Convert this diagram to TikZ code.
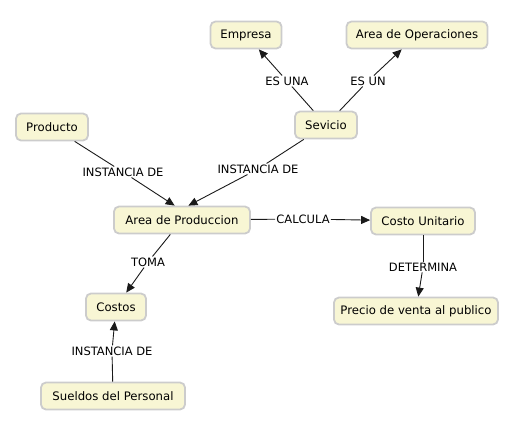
\documentclass[tikz,border=0pt]{standalone}
\usepackage{fontspec}
\setmainfont{DejaVu Sans}
\usetikzlibrary{arrows.meta,positioning}
\definecolor{cmfill}{HTML}{F8F6D4}
\definecolor{cmedge}{HTML}{CCCCCC}
\definecolor{cmline}{HTML}{1A1A1A}

\tikzset{
  concept/.style={draw=cmedge,line width=1.8pt,fill=cmfill,rounded corners=5pt,
    minimum height=27pt,inner xsep=5pt,font=\fontsize{11.7}{13}\selectfont},
  link/.style={inner sep=1pt,font=\fontsize{11.5}{13}\selectfont},
  conn/.style={draw=cmline,line width=0.9pt},
  arr/.style={conn,-{Triangle[length=9pt,width=8pt]}}
}

\begin{document}
\begin{tikzpicture}[x=1pt,y=-1pt]
  \useasboundingbox (0,0) rectangle (519,423);

  % ---- Concepts ----------------------------------------------
  \node[concept,minimum width=71pt]  (empresa) at (246,35)  {Empresa};
  \node[concept,minimum width=141pt] (areaop)  at (417,35)  {Area de Operaciones};
  \node[concept,minimum width=62pt]  (sevicio) at (326,125) {Sevicio};
  \node[concept,minimum width=72pt]  (prod)    at (52,127)  {Producto};
  \node[concept,minimum width=136pt] (areapr)  at (182,220) {Area de Produccion};
  \node[concept,minimum width=104pt] (costou)  at (423,221) {Costo Unitario};
  \node[concept,minimum width=164pt] (precio)  at (416,311) {Precio de venta al publico};
  \node[concept,minimum width=60pt]  (costos)  at (116,307) {Costos};
  \node[concept,minimum width=144pt] (sueldos) at (113,396) {Sueldos del Personal};

  % ---- Linking phrases ---------------------------------------
  \node[link] (esuna)  at (287,81)  {ES UNA};
  \node[link] (esun)   at (368,81)  {ES UN};
  \node[link] (instA)  at (123,172) {INSTANCIA DE};
  \node[link] (instB)  at (258,169) {INSTANCIA DE};
  \node[link] (calc)   at (303,219) {CALCULA};
  \node[link] (toma)   at (148,262) {TOMA};
  \node[link] (deter)  at (423,267) {DETERMINA};
  \node[link] (instC)  at (112,351) {INSTANCIA DE};

  % ---- Connectors --------------------------------------------
  \draw[conn] (sevicio) -- (esuna);
  \draw[arr]  (esuna) -- (empresa);
  \draw[conn] (sevicio) -- (esun);
  \draw[arr]  (esun) -- (areaop);

  \draw[conn] (prod) -- (instA);
  \draw[arr]  (instA) -- (areapr.117);
  \draw[conn] (sevicio) -- (instB);
  \draw[arr]  (instB) -- (areapr.66);

  \draw[conn] (areapr) -- (calc);
  \draw[arr]  (calc) -- (costou);
  \draw[conn] (costou) -- (deter);
  \draw[arr]  (deter) -- (precio);

  \draw[conn] (areapr) -- (toma);
  \draw[arr]  (toma) -- (costos);
  \draw[conn] (sueldos) -- (instC);
  \draw[arr]  (instC) -- (costos);

\end{tikzpicture}
\end{document}
